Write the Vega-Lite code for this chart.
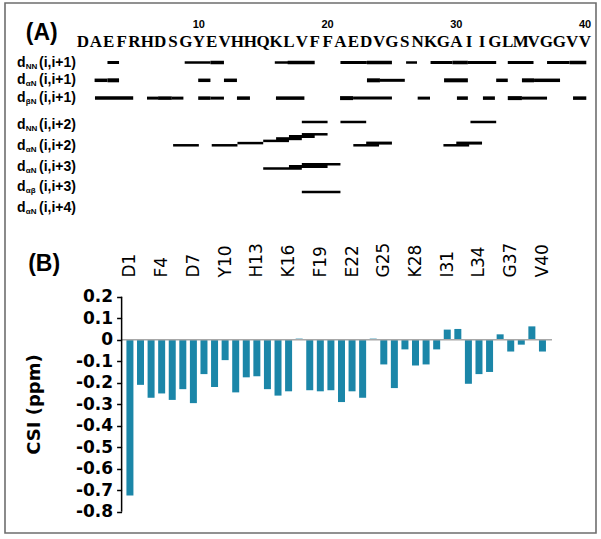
{
  "$schema": "https://vega.github.io/schema/vega-lite/v6.json",
  "width": 591,
  "height": 530,
  "autosize": {"type": "none"},
  "padding": {"left": 5, "top": 3, "right": 5, "bottom": 6},
  "background": "white",
  "config": {"view": {"stroke": "#6e6e6e", "strokeWidth": 1.6}},
  "datasets": {
    "seq": [
      {"pos": 1, "aa": "D"}, {"pos": 2, "aa": "A"}, {"pos": 3, "aa": "E"}, {"pos": 4, "aa": "F"}, {"pos": 5, "aa": "R"},
      {"pos": 6, "aa": "H"}, {"pos": 7, "aa": "D"}, {"pos": 8, "aa": "S"}, {"pos": 9, "aa": "G"}, {"pos": 10, "aa": "Y"},
      {"pos": 11, "aa": "E"}, {"pos": 12, "aa": "V"}, {"pos": 13, "aa": "H"}, {"pos": 14, "aa": "H"}, {"pos": 15, "aa": "Q"},
      {"pos": 16, "aa": "K"}, {"pos": 17, "aa": "L"}, {"pos": 18, "aa": "V"}, {"pos": 19, "aa": "F"}, {"pos": 20, "aa": "F"},
      {"pos": 21, "aa": "A"}, {"pos": 22, "aa": "E"}, {"pos": 23, "aa": "D"}, {"pos": 24, "aa": "V"}, {"pos": 25, "aa": "G"},
      {"pos": 26, "aa": "S"}, {"pos": 27, "aa": "N"}, {"pos": 28, "aa": "K"}, {"pos": 29, "aa": "G"}, {"pos": 30, "aa": "A"},
      {"pos": 31, "aa": "I"}, {"pos": 32, "aa": "I"}, {"pos": 33, "aa": "G"}, {"pos": 34, "aa": "L"}, {"pos": 35, "aa": "M"},
      {"pos": 36, "aa": "V"}, {"pos": 37, "aa": "G"}, {"pos": 38, "aa": "G"}, {"pos": 39, "aa": "V"}, {"pos": 40, "aa": "V"}
    ],
    "nums": [{"pos": 10, "num": "10"}, {"pos": 20, "num": "20"}, {"pos": 30, "num": "30"}, {"pos": 40, "num": "40"}],
    "labels": [
      {"row": 1, "sub": "NN", "tail": "(i,i+1)"},
      {"row": 2, "sub": "αN", "tail": "(i,i+1)"},
      {"row": 3, "sub": "βN", "tail": "(i,i+1)"},
      {"row": 4, "sub": "NN", "tail": "(i,i+2)"},
      {"row": 5, "sub": "αN", "tail": "(i,i+2)"},
      {"row": 6, "sub": "αN", "tail": "(i,i+3)"},
      {"row": 7, "sub": "αβ", "tail": "(i,i+3)"},
      {"row": 8, "sub": "αN", "tail": "(i,i+4)"}
    ],
    "seqnoe": [
      {"row": 1, "a": 2.9, "b": 3.8, "s": "m"},
      {"row": 1, "a": 8.9, "b": 10.9, "s": "w"},
      {"row": 1, "a": 10.9, "b": 11.95, "s": "s"},
      {"row": 1, "a": 15.9, "b": 17.0, "s": "w"},
      {"row": 1, "a": 16.9, "b": 19.0, "s": "s"},
      {"row": 1, "a": 21.0, "b": 23.05, "s": "m"},
      {"row": 1, "a": 23.05, "b": 25.0, "s": "s"},
      {"row": 1, "a": 26.1, "b": 26.95, "s": "w"},
      {"row": 1, "a": 28.0, "b": 29.7, "s": "m"},
      {"row": 1, "a": 29.7, "b": 30.9, "s": "s"},
      {"row": 1, "a": 30.9, "b": 33.1, "s": "m"},
      {"row": 1, "a": 34.0, "b": 36.0, "s": "m"},
      {"row": 1, "a": 37.05, "b": 38.8, "s": "m"},
      {"row": 1, "a": 38.8, "b": 40.1, "s": "s"},
      {"row": 2, "a": 1.9, "b": 2.9, "s": "s"},
      {"row": 2, "a": 2.9, "b": 3.8, "s": "vs"},
      {"row": 2, "a": 9.95, "b": 10.9, "s": "s"},
      {"row": 2, "a": 11.95, "b": 12.96, "s": "s"},
      {"row": 2, "a": 23.06, "b": 24.07, "s": "vs"},
      {"row": 2, "a": 24.07, "b": 26.0, "s": "m"},
      {"row": 2, "a": 29.05, "b": 30.9, "s": "vs"},
      {"row": 2, "a": 33.1, "b": 34.0, "s": "s"},
      {"row": 2, "a": 35.1, "b": 36.04, "s": "vs"},
      {"row": 2, "a": 36.04, "b": 38.06, "s": "s"},
      {"row": 3, "a": 1.93, "b": 4.9, "s": "s"},
      {"row": 3, "a": 5.97, "b": 6.83, "s": "m"},
      {"row": 3, "a": 6.83, "b": 7.9, "s": "s"},
      {"row": 3, "a": 7.9, "b": 8.8, "s": "m"},
      {"row": 3, "a": 9.95, "b": 10.9, "s": "s"},
      {"row": 3, "a": 10.9, "b": 11.95, "s": "m"},
      {"row": 3, "a": 12.96, "b": 13.97, "s": "s"},
      {"row": 3, "a": 15.99, "b": 18.2, "s": "s"},
      {"row": 3, "a": 20.97, "b": 21.98, "s": "vs"},
      {"row": 3, "a": 21.98, "b": 25.0, "s": "m"},
      {"row": 3, "a": 27.0, "b": 27.96, "s": "m"},
      {"row": 3, "a": 30.05, "b": 30.9, "s": "s"},
      {"row": 3, "a": 32.07, "b": 33.0, "s": "s"},
      {"row": 3, "a": 34.0, "b": 35.1, "s": "vs"},
      {"row": 3, "a": 35.1, "b": 37.05, "s": "m"},
      {"row": 3, "a": 39.07, "b": 40.1, "s": "s"}
    ],
    "mednoe": [
      {"row": 4, "a": 18, "b": 20, "lvl": 0, "s": "w"},
      {"row": 4, "a": 21, "b": 23, "lvl": 0, "s": "w"},
      {"row": 4, "a": 31.1, "b": 33.1, "lvl": 0, "s": "w"},
      {"row": 5, "a": 8, "b": 10, "lvl": 0, "s": "w"},
      {"row": 5, "a": 11, "b": 13, "lvl": 0, "s": "w"},
      {"row": 5, "a": 13, "b": 15, "lvl": 1, "s": "w"},
      {"row": 5, "a": 15, "b": 17, "lvl": 2, "s": "w"},
      {"row": 5, "a": 16, "b": 18, "lvl": 3, "s": "m"},
      {"row": 5, "a": 17, "b": 19, "lvl": 4, "s": "m"},
      {"row": 5, "a": 18, "b": 20, "lvl": 5, "s": "w"},
      {"row": 5, "a": 22, "b": 24, "lvl": 0, "s": "w"},
      {"row": 5, "a": 23, "b": 25, "lvl": 1, "s": "m"},
      {"row": 5, "a": 29, "b": 31, "lvl": 0, "s": "w"},
      {"row": 5, "a": 30, "b": 32, "lvl": 1, "s": "m"},
      {"row": 6, "a": 15, "b": 18, "lvl": 0, "s": "w"},
      {"row": 6, "a": 17, "b": 20, "lvl": 1, "s": "m"},
      {"row": 6, "a": 18, "b": 21, "lvl": 2, "s": "w"},
      {"row": 7, "a": 18, "b": 21, "lvl": 0, "s": "w"}
    ],
    "csi": [
      {"pos": 1, "csi": -0.725}, {"pos": 2, "csi": -0.21}, {"pos": 3, "csi": -0.27}, {"pos": 4, "csi": -0.25},
      {"pos": 5, "csi": -0.28}, {"pos": 6, "csi": -0.23}, {"pos": 7, "csi": -0.295}, {"pos": 8, "csi": -0.16},
      {"pos": 9, "csi": -0.22}, {"pos": 10, "csi": -0.095}, {"pos": 11, "csi": -0.245}, {"pos": 12, "csi": -0.175},
      {"pos": 13, "csi": -0.17}, {"pos": 14, "csi": -0.23}, {"pos": 15, "csi": -0.26}, {"pos": 16, "csi": -0.24},
      {"pos": 17, "csi": 0.005}, {"pos": 18, "csi": -0.235}, {"pos": 19, "csi": -0.24}, {"pos": 20, "csi": -0.235},
      {"pos": 21, "csi": -0.29}, {"pos": 22, "csi": -0.24}, {"pos": 23, "csi": -0.27}, {"pos": 24, "csi": 0.005},
      {"pos": 25, "csi": -0.115}, {"pos": 26, "csi": -0.225}, {"pos": 27, "csi": -0.045}, {"pos": 28, "csi": -0.12},
      {"pos": 29, "csi": -0.115}, {"pos": 30, "csi": -0.045}, {"pos": 31, "csi": 0.047}, {"pos": 32, "csi": 0.05},
      {"pos": 33, "csi": -0.205}, {"pos": 34, "csi": -0.16}, {"pos": 35, "csi": -0.15}, {"pos": 36, "csi": 0.025},
      {"pos": 37, "csi": -0.055}, {"pos": 38, "csi": -0.023}, {"pos": 39, "csi": 0.062}, {"pos": 40, "csi": -0.055}
    ]
  },
  "resolve": {"scale": {"x": "independent", "y": "independent", "strokeWidth": "independent"}},
  "layer": [
    {
      "data": {"name": "csi"},
      "mark": {"type": "bar", "size": 7, "color": "#1B86A8"},
      "encoding": {
        "x": {
          "field": "pos", "type": "quantitative",
          "scale": {"domain": [-10.338, 44.59], "nice": false, "zero": false},
          "axis": {
            "orient": "top", "offset": -274, "values": [1, 4, 7, 10, 13, 16, 19, 22, 25, 28, 31, 34, 37, 40],
            "labelExpr": "['D','A','E','F','R','H','D','S','G','Y','E','V','H','H','Q','K','L','V','F','F','A','E','D','V','G','S','N','K','G','A','I','I','G','L','M','V','G','G','V','V'][datum.value - 1] + datum.value",
            "domain": false, "ticks": false, "tickSize": 0, "grid": false, "labelPadding": 0,
            "labelAngle": 270, "labelAlign": "left", "labelBaseline": "middle",
            "labelFont": "DejaVu Sans", "labelFontSize": 17, "labelColor": "black",
            "labelOverlap": false, "labelFlush": false, "title": null
          }
        },
        "y": {
          "field": "csi", "type": "quantitative",
          "scale": {"domain": [-0.899, 1.566], "nice": false, "zero": false},
          "axis": {
            "orient": "left", "offset": -116.6, "domain": false,
            "values": [0.2, 0.1, 0, -0.1, -0.2, -0.3, -0.4, -0.5, -0.6, -0.7, -0.8],
            "labelExpr": "datum.value == 0 ? '0' : (datum.value < 0 ? '-' + format(-datum.value, '.1f') : format(datum.value, '.1f') + '\u2007')",
            "ticks": true, "tickSize": 5, "tickColor": "black", "tickWidth": 1.5, "grid": false,
            "labelFont": "DejaVu Sans", "labelFontWeight": "bold", "labelFontSize": 17, "labelColor": "black",
            "labelPadding": 4, "labelOverlap": false, "labelFlush": false,
            "title": "CSI (ppm)", "titleFont": "DejaVu Sans", "titleFontWeight": "bold", "titleFontSize": 18, "titleColor": "black",
            "titleX": -82, "titleY": 401, "titleAngle": 270, "titleAlign": "center", "titleBaseline": "alphabetic"
          }
        }
      }
    },
    {
      "data": {"values": [{"a": 0.5, "b": 40.5, "v": 0}]},
      "mark": {"type": "rule", "color": "#a8a8a8", "strokeWidth": 1.5},
      "encoding": {
        "x": {"field": "a", "type": "quantitative", "scale": {"domain": [-10.338, 44.59], "nice": false, "zero": false}, "axis": null},
        "x2": {"field": "b"},
        "y": {"field": "v", "type": "quantitative", "scale": {"domain": [-0.899, 1.566], "nice": false, "zero": false}, "axis": null}
      }
    },
    {
      "data": {"values": [{"x": 0.5, "lo": -0.8, "hi": 0.2}]},
      "mark": {"type": "rule", "color": "black", "strokeWidth": 1.5},
      "encoding": {
        "x": {"field": "x", "type": "quantitative", "scale": {"domain": [-10.338, 44.59], "nice": false, "zero": false}, "axis": null},
        "y": {"field": "lo", "type": "quantitative", "scale": {"domain": [-0.899, 1.566], "nice": false, "zero": false}, "axis": null},
        "y2": {"field": "hi"}
      }
    },
    {
      "data": {"values": [{"panel": "(B)", "pos": -6.7, "v": 0.32}]},
      "mark": {"type": "text", "font": "Liberation Sans", "fontWeight": "bold", "fontSize": 23, "baseline": "alphabetic", "align": "center", "color": "black"},
      "encoding": {
        "x": {"field": "pos", "type": "quantitative", "scale": {"domain": [-10.338, 44.59], "nice": false, "zero": false}, "axis": null},
        "y": {"field": "v", "type": "quantitative", "scale": {"domain": [-0.899, 1.566], "nice": false, "zero": false}, "axis": null},
        "text": {"field": "panel"}
      }
    },
    {
      "data": {"name": "seq"},
      "mark": {"type": "text", "font": "Liberation Serif", "fontWeight": "bold", "fontSize": 17, "baseline": "alphabetic", "align": "center", "color": "black"},
      "encoding": {
        "x": {"field": "pos", "type": "quantitative", "scale": {"domain": [-5.06, 40.854], "nice": false, "zero": false}, "axis": null},
        "y": {"datum": 2, "type": "quantitative", "scale": {"domain": [-0.353, 27.99], "nice": false, "zero": false, "reverse": true}, "axis": null},
        "text": {"field": "aa"}
      }
    },
    {
      "data": {"name": "nums"},
      "mark": {"type": "text", "font": "Liberation Sans", "fontWeight": "bold", "fontSize": 11, "baseline": "alphabetic", "align": "center", "color": "black"},
      "encoding": {
        "x": {"field": "pos", "type": "quantitative", "scale": {"domain": [-5.06, 40.854], "nice": false, "zero": false}, "axis": null},
        "y": {"datum": 1, "type": "quantitative", "scale": {"domain": [-0.353, 27.99], "nice": false, "zero": false, "reverse": true}, "axis": null},
        "text": {"field": "num"}
      }
    },
    {
      "data": {"values": [{"panel": "(A)", "pos": -2.2}]},
      "mark": {"type": "text", "font": "Liberation Sans", "fontWeight": "bold", "fontSize": 23, "baseline": "alphabetic", "align": "center", "color": "black"},
      "encoding": {
        "x": {"field": "pos", "type": "quantitative", "scale": {"domain": [-5.06, 40.854], "nice": false, "zero": false}, "axis": null},
        "y": {"datum": 1.6, "type": "quantitative", "scale": {"domain": [-0.353, 27.99], "nice": false, "zero": false, "reverse": true}, "axis": null},
        "text": {"field": "panel"}
      }
    },
    {
      "data": {"name": "seqnoe"},
      "mark": {"type": "rule", "color": "black", "strokeCap": "butt"},
      "encoding": {
        "x": {"field": "a", "type": "quantitative", "scale": {"domain": [-5.06, 40.854], "nice": false, "zero": false}, "axis": null},
        "x2": {"field": "b"},
        "y": {"field": "row", "type": "quantitative", "scale": {"domain": [-2.343, 27.43], "nice": false, "zero": false, "reverse": true}, "axis": null},
        "strokeWidth": {"field": "s", "type": "nominal", "scale": {"domain": ["w", "m", "s", "vs"], "range": [2.5, 4, 6, 8]}, "legend": null}
      }
    },
    {
      "data": {"name": "labels"},
      "transform": [{"filter": "datum.row <= 3"}],
      "mark": {"type": "text", "font": "Liberation Sans", "fontWeight": "bold", "fontSize": 14, "baseline": "middle", "align": "left", "color": "black"},
      "encoding": {
        "x": {"datum": -4.13, "type": "quantitative", "scale": {"domain": [-5.06, 40.854], "nice": false, "zero": false}, "axis": null},
        "y": {"field": "row", "type": "quantitative", "scale": {"domain": [-2.343, 27.43], "nice": false, "zero": false, "reverse": true}, "axis": null},
        "text": {"value": "d"}
      }
    },
    {
      "data": {"name": "labels"},
      "transform": [{"filter": "datum.row <= 3"}],
      "mark": {"type": "text", "font": "Liberation Sans", "fontWeight": "bold", "fontSize": 8, "baseline": "middle", "align": "left", "dx": 8.8, "dy": 4, "color": "black"},
      "encoding": {
        "x": {"datum": -4.13, "type": "quantitative", "scale": {"domain": [-5.06, 40.854], "nice": false, "zero": false}, "axis": null},
        "y": {"field": "row", "type": "quantitative", "scale": {"domain": [-2.343, 27.43], "nice": false, "zero": false, "reverse": true}, "axis": null},
        "text": {"field": "sub"}
      }
    },
    {
      "data": {"name": "labels"},
      "transform": [{"filter": "datum.row <= 3"}],
      "mark": {"type": "text", "font": "Liberation Sans", "fontWeight": "bold", "fontSize": 14, "baseline": "middle", "align": "left", "dx": 22, "color": "black"},
      "encoding": {
        "x": {"datum": -4.13, "type": "quantitative", "scale": {"domain": [-5.06, 40.854], "nice": false, "zero": false}, "axis": null},
        "y": {"field": "row", "type": "quantitative", "scale": {"domain": [-2.343, 27.43], "nice": false, "zero": false, "reverse": true}, "axis": null},
        "text": {"field": "tail"}
      }
    },
    {
      "data": {"name": "labels"},
      "transform": [{"filter": "datum.row >= 4"}],
      "mark": {"type": "text", "font": "Liberation Sans", "fontWeight": "bold", "fontSize": 14, "baseline": "middle", "align": "left", "color": "black"},
      "encoding": {
        "x": {"datum": -4.13, "type": "quantitative", "scale": {"domain": [-5.06, 40.854], "nice": false, "zero": false}, "axis": null},
        "y": {"field": "row", "type": "quantitative", "scale": {"domain": [-1.88, 23.66], "nice": false, "zero": false, "reverse": true}, "axis": null},
        "text": {"value": "d"}
      }
    },
    {
      "data": {"name": "labels"},
      "transform": [{"filter": "datum.row >= 4"}],
      "mark": {"type": "text", "font": "Liberation Sans", "fontWeight": "bold", "fontSize": 8, "baseline": "middle", "align": "left", "dx": 8.8, "dy": 4, "color": "black"},
      "encoding": {
        "x": {"datum": -4.13, "type": "quantitative", "scale": {"domain": [-5.06, 40.854], "nice": false, "zero": false}, "axis": null},
        "y": {"field": "row", "type": "quantitative", "scale": {"domain": [-1.88, 23.66], "nice": false, "zero": false, "reverse": true}, "axis": null},
        "text": {"field": "sub"}
      }
    },
    {
      "data": {"name": "labels"},
      "transform": [{"filter": "datum.row >= 4"}],
      "mark": {"type": "text", "font": "Liberation Sans", "fontWeight": "bold", "fontSize": 14, "baseline": "middle", "align": "left", "dx": 22, "color": "black"},
      "encoding": {
        "x": {"datum": -4.13, "type": "quantitative", "scale": {"domain": [-5.06, 40.854], "nice": false, "zero": false}, "axis": null},
        "y": {"field": "row", "type": "quantitative", "scale": {"domain": [-1.88, 23.66], "nice": false, "zero": false, "reverse": true}, "axis": null},
        "text": {"field": "tail"}
      }
    },
    {
      "data": {"name": "mednoe"},
      "transform": [{"filter": "datum.lvl == 0"}],
      "mark": {"type": "rule", "color": "black", "strokeCap": "butt"},
      "encoding": {
        "x": {"field": "a", "type": "quantitative", "scale": {"domain": [-5.06, 40.854], "nice": false, "zero": false}, "axis": null},
        "x2": {"field": "b"},
        "y": {"field": "row", "type": "quantitative", "scale": {"domain": [-1.107, 21.64], "nice": false, "zero": false, "reverse": true}, "axis": null},
        "strokeWidth": {"field": "s", "type": "nominal", "scale": {"domain": ["w", "m", "s", "vs"], "range": [2.5, 4, 6, 8]}, "legend": null}
      }
    },
    {
      "data": {"name": "mednoe"},
      "transform": [{"filter": "datum.lvl == 1"}],
      "mark": {"type": "rule", "color": "black", "strokeCap": "butt", "yOffset": -2.2},
      "encoding": {
        "x": {"field": "a", "type": "quantitative", "scale": {"domain": [-5.06, 40.854], "nice": false, "zero": false}, "axis": null},
        "x2": {"field": "b"},
        "y": {"field": "row", "type": "quantitative", "scale": {"domain": [-1.107, 21.64], "nice": false, "zero": false, "reverse": true}, "axis": null},
        "strokeWidth": {"field": "s", "type": "nominal", "scale": {"domain": ["w", "m", "s", "vs"], "range": [2.5, 4, 6, 8]}, "legend": null}
      }
    },
    {
      "data": {"name": "mednoe"},
      "transform": [{"filter": "datum.lvl == 2"}],
      "mark": {"type": "rule", "color": "black", "strokeCap": "butt", "yOffset": -4.4},
      "encoding": {
        "x": {"field": "a", "type": "quantitative", "scale": {"domain": [-5.06, 40.854], "nice": false, "zero": false}, "axis": null},
        "x2": {"field": "b"},
        "y": {"field": "row", "type": "quantitative", "scale": {"domain": [-1.107, 21.64], "nice": false, "zero": false, "reverse": true}, "axis": null},
        "strokeWidth": {"field": "s", "type": "nominal", "scale": {"domain": ["w", "m", "s", "vs"], "range": [2.5, 4, 6, 8]}, "legend": null}
      }
    },
    {
      "data": {"name": "mednoe"},
      "transform": [{"filter": "datum.lvl == 3"}],
      "mark": {"type": "rule", "color": "black", "strokeCap": "butt", "yOffset": -6.6},
      "encoding": {
        "x": {"field": "a", "type": "quantitative", "scale": {"domain": [-5.06, 40.854], "nice": false, "zero": false}, "axis": null},
        "x2": {"field": "b"},
        "y": {"field": "row", "type": "quantitative", "scale": {"domain": [-1.107, 21.64], "nice": false, "zero": false, "reverse": true}, "axis": null},
        "strokeWidth": {"field": "s", "type": "nominal", "scale": {"domain": ["w", "m", "s", "vs"], "range": [2.5, 4, 6, 8]}, "legend": null}
      }
    },
    {
      "data": {"name": "mednoe"},
      "transform": [{"filter": "datum.lvl == 4"}],
      "mark": {"type": "rule", "color": "black", "strokeCap": "butt", "yOffset": -8.8},
      "encoding": {
        "x": {"field": "a", "type": "quantitative", "scale": {"domain": [-5.06, 40.854], "nice": false, "zero": false}, "axis": null},
        "x2": {"field": "b"},
        "y": {"field": "row", "type": "quantitative", "scale": {"domain": [-1.107, 21.64], "nice": false, "zero": false, "reverse": true}, "axis": null},
        "strokeWidth": {"field": "s", "type": "nominal", "scale": {"domain": ["w", "m", "s", "vs"], "range": [2.5, 4, 6, 8]}, "legend": null}
      }
    },
    {
      "data": {"name": "mednoe"},
      "transform": [{"filter": "datum.lvl == 5"}],
      "mark": {"type": "rule", "color": "black", "strokeCap": "butt", "yOffset": -11},
      "encoding": {
        "x": {"field": "a", "type": "quantitative", "scale": {"domain": [-5.06, 40.854], "nice": false, "zero": false}, "axis": null},
        "x2": {"field": "b"},
        "y": {"field": "row", "type": "quantitative", "scale": {"domain": [-1.107, 21.64], "nice": false, "zero": false, "reverse": true}, "axis": null},
        "strokeWidth": {"field": "s", "type": "nominal", "scale": {"domain": ["w", "m", "s", "vs"], "range": [2.5, 4, 6, 8]}, "legend": null}
      }
    }
  ]
}
